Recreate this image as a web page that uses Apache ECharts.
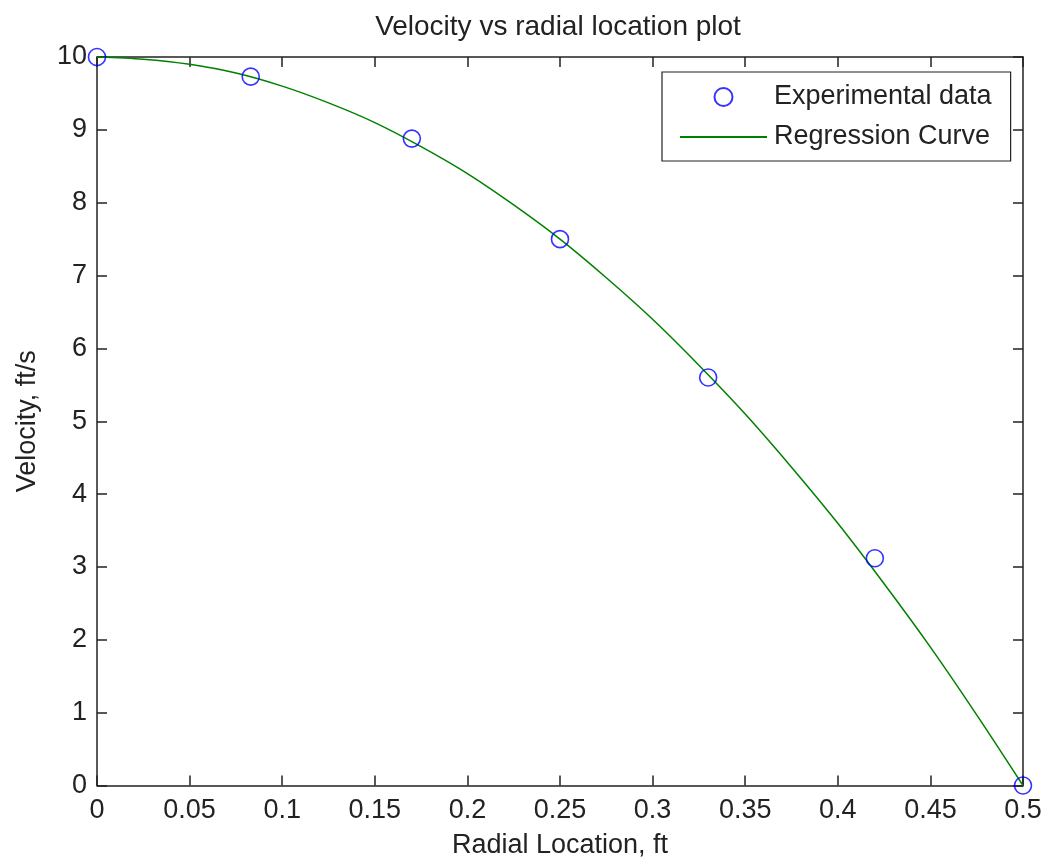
<!DOCTYPE html>
<html>
<head>
<meta charset="utf-8">
<script src="https://cdn.jsdelivr.net/npm/echarts@6/dist/echarts.min.js"></script>
<style>html,body{margin:0;padding:0;background:#fff}#c{width:1042px;height:861px}</style>
</head>
<body>
<div id="c"></div>
<script>
var expR = [0, 0.083, 0.17, 0.25, 0.33, 0.42, 0.5];
var expV = [10, 9.73, 8.88, 7.5, 5.6, 3.12, 0];
// Regression curve
var curveR = [0, 0.025, 0.05, 0.075, 0.1, 0.125, 0.15, 0.175, 0.2, 0.225, 0.25, 0.275, 0.3, 0.325, 0.35, 0.375, 0.4, 0.425, 0.45, 0.475, 0.5];
var curveV = [10, 9.97, 9.9, 9.78, 9.6, 9.37, 9.1, 8.77, 8.4, 7.97, 7.5, 6.97, 6.4, 5.77, 5.1, 4.37, 3.6, 2.77, 1.9, 0.97, 0];
var xTicks = [0, 0.05, 0.1, 0.15, 0.2, 0.25, 0.3, 0.35, 0.4, 0.45, 0.5];
var yTicks = [0, 1, 2, 3, 4, 5, 6, 7, 8, 9, 10];

var FONT = 'Liberation Sans';
var TXT = '#222';
var fs = 27;

function zip(a, b) { return a.map(function (v, i) { return [v, b[i]]; }); }

var axisLine = { show: true, onZero: false, lineStyle: { color: '#222', width: 1.5 } };
var tick = { show: true, inside: true, length: 10, lineStyle: { color: '#222', width: 1.5 } };

var chart = echarts.init(document.getElementById('c'), null, { renderer: 'canvas' });
chart.setOption({
  backgroundColor: '#fff',
  animation: false,
  title: {
    text: 'Velocity vs radial location plot',
    left: 558, top: 13, textAlign: 'center', padding: 0,
    textStyle: { fontFamily: FONT, fontSize: 28, fontWeight: 'normal', color: TXT }
  },
  grid: { left: 97, right: 19, top: 57, bottom: 75.5, containLabel: false, outerBoundsMode: 'none' },
  legend: {
    orient: 'vertical', left: 662, top: 72,
    padding: [10, 19, 9, 17],
    itemWidth: 87, itemHeight: 18, itemGap: 10,
    borderColor: '#222', borderWidth: 1.2, backgroundColor: '#fff',
    textStyle: { fontFamily: FONT, fontSize: fs, color: TXT, lineHeight: 30, padding: [0, 0, 0, 2] },
    data: ['Experimental data', { name: 'Regression Curve', itemStyle: { opacity: 0 } }]
  },
  xAxis: [{
    type: 'value', min: 0, max: 0.5, interval: 0.05,
    name: 'Radial Location, ft', nameLocation: 'middle', nameGap: 47,
    nameTextStyle: { fontFamily: FONT, fontSize: fs, color: TXT },
    axisLine: axisLine, axisTick: tick, splitLine: { show: false },
    axisLabel: { fontFamily: FONT, fontSize: fs, color: TXT, margin: 12,
      formatter: function (v) { return String(+v.toFixed(2)); } }
  }, {
    type: 'value', position: 'top', min: 0, max: 0.5, interval: 0.05,
    axisLine: axisLine, axisTick: tick, axisLabel: { show: false }, splitLine: { show: false }
  }],
  yAxis: [{
    type: 'value', min: 0, max: 10, interval: 1,
    name: 'Velocity, ft/s', nameLocation: 'middle', nameGap: 56,
    nameTextStyle: { fontFamily: FONT, fontSize: fs, color: TXT },
    axisLine: axisLine, axisTick: tick, splitLine: { show: false },
    axisLabel: { fontFamily: FONT, fontSize: fs, color: TXT, margin: 10 }
  }, {
    type: 'value', position: 'right', min: 0, max: 10, interval: 1,
    axisLine: axisLine, axisTick: tick, axisLabel: { show: false }, splitLine: { show: false }
  }],
  series: [{
    name: 'Regression Curve', type: 'line', data: zip(curveR, curveV),
    symbol: 'none', smooth: 0.3, clip: false,
    lineStyle: { color: '#008000', width: 1.5 }, itemStyle: { color: '#008000' }, z: 2
  }, {
    name: 'Experimental data', type: 'scatter', data: zip(expR, expV),
    symbol: 'circle', symbolSize: 17, clip: false,
    itemStyle: { color: 'rgba(0,0,0,0)', borderColor: '#0000ff', borderWidth: 1.6 }, z: 3
  }]
});
</script>
</body>
</html>
